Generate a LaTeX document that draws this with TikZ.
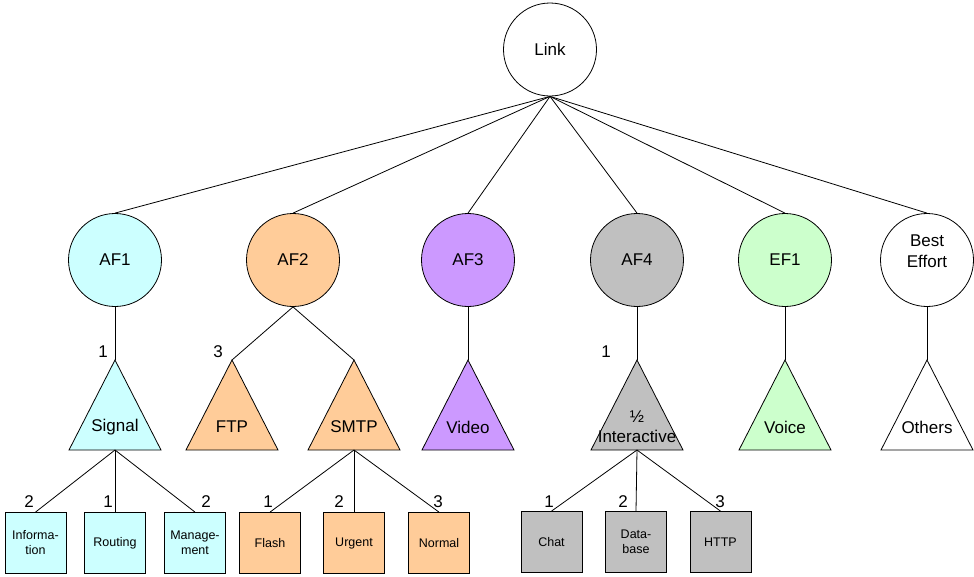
\documentclass[tikz,border=0pt]{standalone}
\usepackage{fontspec}
\setmainfont{Liberation Sans}
\definecolor{cyanL}{HTML}{CCFFFF}
\definecolor{orangeL}{HTML}{FFCC99}
\definecolor{purpleL}{HTML}{CC99FF}
\definecolor{grayL}{HTML}{C0C0C0}
\definecolor{greenL}{HTML}{CCFFCC}
% #1 name, #2 x of apex, #3 fill, #4 text
\newcommand\classtri[4]{%
  \coordinate (#1-top) at (#2,360);
  \coordinate (#1-base) at (#2,450);
  \draw[fill=#3,line join=miter] (#1-top) -- (#2+46,450) -- (#2-46,450) -- cycle;
  \node[tritext] (#1-text) at (#2,427) {#4};
}
\begin{document}
\begin{tikzpicture}[x=1pt,y=-1pt,line width=0.8pt,
  circ/.style={circle,draw,minimum size=93pt,inner sep=0pt,align=center,
    font=\fontsize{17}{21}\selectfont},
  tritext/.style={inner sep=0pt,align=center,font=\fontsize{17}{20}\selectfont},
  leaf/.style={rectangle,draw,minimum size=61pt,inner sep=0pt,align=center,
    font=\fontsize{12.5}{15}\selectfont},
  wt/.style={inner sep=0pt,font=\fontsize{17}{18}\selectfont}]
\useasboundingbox (0,0) rectangle (974,576);

% root and traffic classes
\node[circ] (link) at (550,49.5) {Link};
\node[circ,fill=cyanL]   (af1) at (115,260) {AF1};
\node[circ,fill=orangeL] (af2) at (293,260) {AF2};
\node[circ,fill=purpleL] (af3) at (468,260) {AF3};
\node[circ,fill=grayL]   (af4) at (637,260) {AF4};
\node[circ,fill=greenL]  (ef1) at (785,260) {EF1};
\node[circ]              (be)  at (927,260) {};
\node[tritext,font=\fontsize{17}{21}\selectfont] (be-text) at (927,251) {Best\\Effort};

\foreach \c in {af1,af2,af3,af4,ef1,be}
  \draw (link.south) -- (\c.north);

% applications
\classtri{sig}{115}{cyanL}{Signal}
\classtri{ftp}{232}{orangeL}{FTP}
\classtri{smtp}{354}{orangeL}{SMTP}
\classtri{vid}{468}{purpleL}{Video}
\classtri{int}{637}{grayL}{\textonehalf\\Interactive}
\classtri{voi}{785}{greenL}{Voice}
\classtri{oth}{927}{white}{Others}

\draw (af1.south) -- (sig-top);
\draw (af2.south) -- (ftp-top);
\draw (af2.south) -- (smtp-top);
\draw (af3.south) -- (vid-top);
\draw (af4.south) -- (int-top);
\draw (ef1.south) -- (voi-top);
\draw (be.south)  -- (oth-top);

\node[wt] (w-sig) at (103,352) {1};
\node[wt] (w-ftp) at (218,352) {3};
\node[wt] (w-int) at (606,352) {1};

% leaf flows
\node[leaf,fill=cyanL]   (info)  at (35.5,543) {Informa-\\tion};
\node[leaf,fill=cyanL]   (rout)  at (115,543)  {Routing};
\node[leaf,fill=cyanL]   (mgmt)  at (195,543)  {Manage-\\ment};
\node[leaf,fill=orangeL] (flash) at (270,543)  {Flash};
\node[leaf,fill=orangeL] (urg)   at (354,543)  {Urgent};
\node[leaf,fill=orangeL] (norm)  at (439,543)  {Normal};
\node[leaf,fill=grayL]   (chat)  at (551.5,542){Chat};
\node[leaf,fill=grayL]   (db)    at (636,542)  {Data-\\base};
\node[leaf,fill=grayL]   (http)  at (720.5,542){HTTP};

\foreach \t/\l in {sig/info,sig/rout,sig/mgmt,smtp/flash,smtp/urg,smtp/norm,int/chat,int/db,int/http}
  \draw (\t-base) -- (\l.north);

\node[wt] at (29,502)  {2};
\node[wt] at (108,502) {1};
\node[wt] at (206,502) {2};
\node[wt] at (268,502) {1};
\node[wt] at (339,502) {2};
\node[wt] at (438,502) {3};
\node[wt] at (549,502) {1};
\node[wt] at (623,502) {2};
\node[wt] at (720,502) {3};
\end{tikzpicture}
\end{document}
